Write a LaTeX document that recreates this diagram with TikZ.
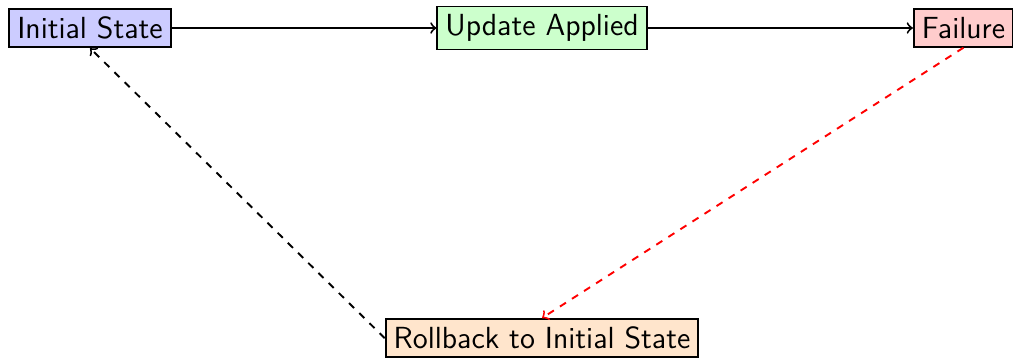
\documentclass[tikz,border=0pt]{standalone}
\usepackage{xcolor}
\usepackage{tikz}
\usetikzlibrary{arrows}
\tikzset {
  % boxed state style
  state/.style = {draw, thick, rectangle, font=\sffamily\fontsize{12.8}{15}\selectfont},
  % colours of the states
  start/.style={state, fill=blue!20},
  update/.style={state, fill=green!20},
  fail/.style={state, fill=red!20},
  rollback/.style={state, fill=orange!20},
  % recovery edges
  recover/.style={->, dashed, thick},
}

\begin{document}
\begin{tikzpicture}
        \useasboundingbox (-1.327, 0.413) rectangle (13.6, -4.85);

        \node[start] (init) at (0, 0) {Initial State};
        \node[update] (upd) at (6.66, 0) {Update Applied};
        \node[fail] (fail) at (12.87, 0) {Failure};
        \node[rollback] (roll) at (6.66, -4.57) {Rollback to Initial State};

        \draw [->, thick] (init) -- (upd);
        \draw [->, thick] (upd) -- (fail);

        \draw [recover, red] (fail.south) -- (roll.north);
        \draw [recover] (roll.west) -- (init.south);
      \end{tikzpicture}
\end{document}
